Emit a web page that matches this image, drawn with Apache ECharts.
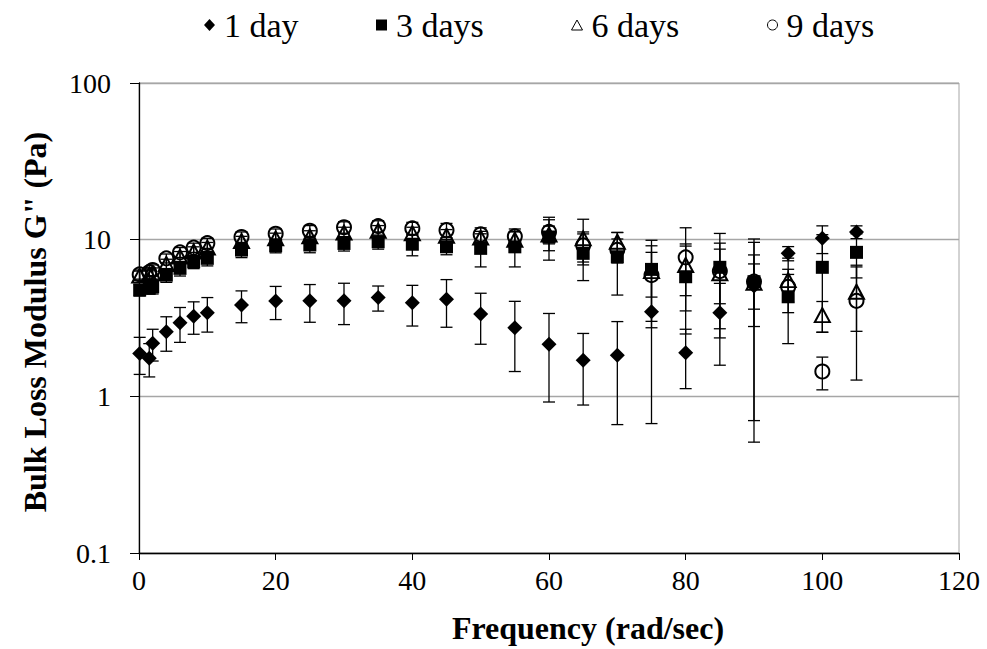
<!DOCTYPE html>
<html><head><meta charset="utf-8">
<script src="https://cdn.jsdelivr.net/npm/echarts@6/dist/echarts.min.js"></script>
<style>html,body{margin:0;padding:0;background:#fff}#c{width:987px;height:649px}</style>
</head><body><div id="c"></div>
<script>
// Frequencies (rad/sec)
const freq = [0.1, 1.5, 2, 4, 6, 8, 10, 15, 20, 25, 30, 35, 40, 45, 50, 55, 60, 65, 70, 75, 80, 85, 90, 95, 100, 105];

// G'' (Pa) means and standard deviations
const day1    = [1.88, 1.75, 2.18, 2.58, 2.95, 3.25, 3.42, 3.83, 4.06, 4.07, 4.07, 4.28, 3.96, 4.16, 3.35, 2.74, 2.15, 1.70, 1.83, 3.47, 1.90, 3.42, 5.06, 8.18, 10.2, 11.2];
const day1Err = [0.50, 0.42, 0.50, 0.64, 0.74, 0.76, 0.85, 0.88, 0.97, 1.10, 1.20, 0.78, 1.15, 1.40, 1.20, 1.30, 1.23, 0.82, 1.17, 2.80, 0.78, 1.84, 4.55, 0.85, 2.05, 1.05];

const day3    = [4.77, 4.90, 5.00, 5.94, 6.56, 7.23, 7.60, 8.58, 9.14, 9.25, 9.46, 9.70, 9.35, 9.01, 8.80, 9.00, 10.4, 8.18, 7.78, 6.46, 5.80, 6.66, 5.39, 4.32, 6.66, 8.30];
const day3Err = [0.40, 0.40, 0.50, 0.60, 0.70, 0.70, 0.80, 0.90, 0.90, 1.00, 1.00, 1.00, 1.46, 1.00, 2.10, 2.30, 3.00, 2.70, 3.35, 3.45, 3.30, 4.30, 2.60, 2.15, 4.10, 2.60];

const day6    = [5.90, 6.00, 6.10, 7.00, 7.80, 8.40, 8.90, 9.80, 10.2, 10.5, 11.1, 11.4, 11.0, 10.6, 10.3, 10.0, 10.8, 10.2, 9.70, 6.30, 6.89, 6.10, 5.30, 5.52, 3.30, 4.65];
const day6Err = [0.40, 0.40, 0.50, 0.50, 0.60, 0.60, 0.70, 0.70, 0.80, 0.90, 0.90, 0.90, 1.00, 1.00, 1.00, 1.20, 1.40, 3.30, 1.40, 2.00, 2.50, 3.40, 1.70, 2.10, 0.73, 2.05];

const day9    = [6.00, 6.20, 6.40, 7.60, 8.30, 8.90, 9.50, 10.4, 10.9, 11.4, 12.0, 12.2, 11.8, 11.5, 10.8, 10.5, 11.2, 9.20, 8.60, 5.94, 7.71, 6.30, 5.40, 5.00, 1.44, 4.07];
const day9Err = [0.40, 0.40, 0.50, 0.50, 0.60, 0.60, 0.70, 0.80, 0.80, 0.90, 1.00, 1.00, 1.10, 1.20, 1.10, 1.20, 2.70, 2.00, 1.50, 3.20, 4.20, 2.40, 4.70, 1.00, 0.34, 2.80];

const seriesNames = ['1 day', '3 days', '6 days', '9 days'];
const xTicks = [0, 20, 40, 60, 80, 100, 120];
const yTicks = [0.1, 1, 10, 100];

const FONT = '"Liberation Serif", "Times New Roman", serif';

function pts(vals) { return freq.map((f, i) => [f, vals[i]]); }
function errs(vals, e) { return freq.map((f, i) => [f, vals[i] - e[i], vals[i] + e[i]]); }

function renderErr(params, api) {
  const x = api.value(0), lo = api.value(1), hi = api.value(2);
  const p1 = api.coord([x, hi]), p2 = api.coord([x, lo]);
  const w = 6;
  const style = { stroke: '#000', lineWidth: 1.3, fill: null };
  return { type: 'group', children: [
    { type: 'line', shape: { x1: p1[0], y1: p1[1], x2: p2[0], y2: p2[1] }, style: style },
    { type: 'line', shape: { x1: p1[0] - w, y1: p1[1], x2: p1[0] + w, y2: p1[1] }, style: style },
    { type: 'line', shape: { x1: p2[0] - w, y1: p2[1], x2: p2[0] + w, y2: p2[1] }, style: style }
  ]};
}

const vals = [day1, day3, day6, day9];
const evs = [day1Err, day3Err, day6Err, day9Err];
const symbols = ['diamond', 'rect', 'triangle', 'circle'];
const sizes = [[15, 15], [13, 13], [15, 14], [14, 14]];
const hollow = [false, false, true, true];

const series = [];
for (let k = 0; k < 4; k++) {
  series.push({
    type: 'custom', renderItem: renderErr, data: errs(vals[k], evs[k]),
    encode: { x: 0, y: [1, 2] }, z: 2 + k * 2, silent: true
  });
  series.push({
    name: seriesNames[k], type: 'scatter', data: pts(vals[k]),
    symbol: symbols[k], symbolSize: sizes[k], z: 3 + k * 2,
    itemStyle: hollow[k]
      ? { color: 'rgba(0,0,0,0)', borderColor: '#000', borderWidth: 2, opacity: 1 }
      : { color: '#000', borderWidth: 0, opacity: 1 }
  });
}

const legendLeft = [199, 371, 566, 762];
const legendIcon = [[11, 12], [11, 11], [11, 10], [10, 10]];
const legends = seriesNames.map((n, k) => ({
  data: [{ name: n, icon: symbols[k],
    itemStyle: hollow[k] ? { color: '#fff', borderColor: '#000', borderWidth: 1, opacity: 1 } : { color: '#000', borderWidth: 0, opacity: 1 } }],
  left: legendLeft[k], top: 3, itemWidth: legendIcon[k][0], itemHeight: legendIcon[k][1],
  selectedMode: false,
  textStyle: { fontFamily: FONT, fontSize: 34, color: '#000', padding: [0, 0, 0, 4] }
}));

const chart = echarts.init(document.getElementById('c'), null, { renderer: 'svg' });
chart.setOption({
  animation: false,
  backgroundColor: '#fff',
  legend: legends,
  grid: { left: 139, right: 28, top: 83, bottom: 96, show: true, borderColor: '#a6a6a6', borderWidth: 1, containLabel: false },
  xAxis: {
    type: 'value', min: xTicks[0], max: xTicks[xTicks.length - 1], interval: 20,
    axisLine: { show: true, onZero: false, lineStyle: { color: '#000', width: 1.3 } },
    axisTick: { show: true, inside: false, length: 7, lineStyle: { color: '#000', width: 1 } },
    axisLabel: { fontFamily: FONT, fontSize: 28, color: '#000', margin: 13 },
    splitLine: { show: false }
  },
  yAxis: {
    type: 'log', logBase: 10, min: yTicks[0], max: yTicks[yTicks.length - 1],
    axisLine: { show: true, onZero: false, lineStyle: { color: '#000', width: 1.3 } },
    axisTick: { show: true, inside: false, length: 9, lineStyle: { color: '#000', width: 1 } },
    axisLabel: { fontFamily: FONT, fontSize: 28, color: '#000', margin: 28,
      formatter: function (v) { return String(+v.toPrecision(3)); } },
    splitLine: { show: true, lineStyle: { color: '#a6a6a6', width: 1.3 } },
    minorTick: { show: false }
  },
  graphic: [
    { type: 'text', x: 588, y: 628, z: 10,
      style: { text: 'Frequency (rad/sec)', font: 'bold 32px ' + FONT, fill: '#000', align: 'center', verticalAlign: 'middle', textAlign: 'center', textVerticalAlign: 'middle' } },
    { type: 'text', x: 35, y: 322, rotation: Math.PI / 2, z: 10,
      style: { text: 'Bulk Loss Modulus G" (Pa)', font: 'bold 32px ' + FONT, fill: '#000', align: 'center', verticalAlign: 'middle', textAlign: 'center', textVerticalAlign: 'middle' } }
  ],
  series: series
});
</script>
</body></html>
